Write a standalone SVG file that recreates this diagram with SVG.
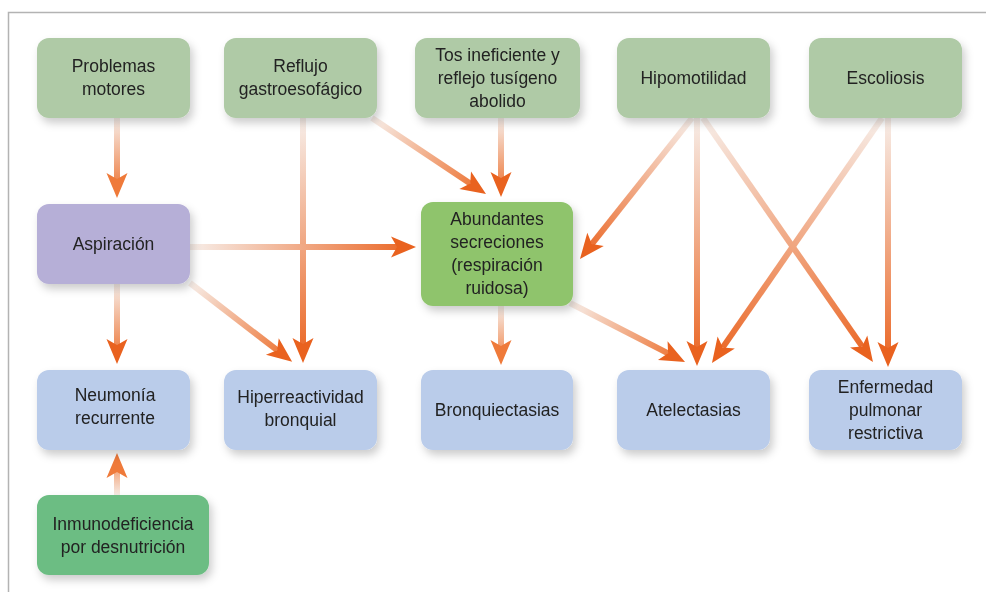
<svg xmlns="http://www.w3.org/2000/svg" width="986" height="592" viewBox="0 0 986 592">
  <defs>
    <filter id="sh" x="-20%" y="-20%" width="150%" height="160%">
      <feDropShadow dx="3" dy="5" stdDeviation="4" flood-color="#000" flood-opacity="0.2"/>
    </filter>
    <marker id="ah" markerUnits="userSpaceOnUse" markerWidth="32" markerHeight="32" viewBox="-10 -16 32 32" refX="0" refY="0" orient="auto">
      <path d="M-6,-10.5 L19,0 L-6,10.5 L0,0 Z" fill="#E9621F"/>
    </marker>
    <marker id="ahl" markerUnits="userSpaceOnUse" markerWidth="32" markerHeight="32" viewBox="-10 -16 32 32" refX="0" refY="0" orient="auto">
      <path d="M-6,-10.5 L19,0 L-6,10.5 L0,0 Z" fill="#EF7A3A"/>
    </marker>
    <linearGradient id="g1" gradientUnits="userSpaceOnUse" x1="117" y1="118" x2="117" y2="198"><stop offset="0" stop-color="#F7EEE9"/><stop offset="1" stop-color="#EC6B27"/></linearGradient>
    <linearGradient id="g2" gradientUnits="userSpaceOnUse" x1="303" y1="118" x2="303" y2="363"><stop offset="0" stop-color="#F7EEE9"/><stop offset="1" stop-color="#EA6320"/></linearGradient>
    <linearGradient id="g3" gradientUnits="userSpaceOnUse" x1="372" y1="118" x2="486" y2="194"><stop offset="0" stop-color="#F7EEE9"/><stop offset="1" stop-color="#EC6B27"/></linearGradient>
    <linearGradient id="g4" gradientUnits="userSpaceOnUse" x1="501" y1="118" x2="501" y2="197"><stop offset="0" stop-color="#F7EEE9"/><stop offset="1" stop-color="#EC6B27"/></linearGradient>
    <linearGradient id="g5" gradientUnits="userSpaceOnUse" x1="692" y1="118" x2="580" y2="259"><stop offset="0" stop-color="#F7EEE9"/><stop offset="1" stop-color="#EA6320"/></linearGradient>
    <linearGradient id="g6" gradientUnits="userSpaceOnUse" x1="697" y1="118" x2="697" y2="366"><stop offset="0" stop-color="#F7EEE9"/><stop offset="1" stop-color="#EA6320"/></linearGradient>
    <linearGradient id="g7" gradientUnits="userSpaceOnUse" x1="703" y1="118" x2="873" y2="362"><stop offset="0" stop-color="#F7EEE9"/><stop offset="1" stop-color="#EA6320"/></linearGradient>
    <linearGradient id="g8" gradientUnits="userSpaceOnUse" x1="882" y1="118" x2="712" y2="363"><stop offset="0" stop-color="#F7EEE9"/><stop offset="1" stop-color="#EA6320"/></linearGradient>
    <linearGradient id="g9" gradientUnits="userSpaceOnUse" x1="888" y1="118" x2="888" y2="367"><stop offset="0" stop-color="#F7EEE9"/><stop offset="1" stop-color="#EA6320"/></linearGradient>
    <linearGradient id="g10" gradientUnits="userSpaceOnUse" x1="190" y1="247" x2="416" y2="247"><stop offset="0" stop-color="#F7EEE9"/><stop offset="1" stop-color="#EA6320"/></linearGradient>
    <linearGradient id="g11" gradientUnits="userSpaceOnUse" x1="190" y1="283" x2="292" y2="362"><stop offset="0" stop-color="#F7EEE9"/><stop offset="1" stop-color="#EC6B27"/></linearGradient>
    <linearGradient id="g12" gradientUnits="userSpaceOnUse" x1="117" y1="284" x2="117" y2="364"><stop offset="0" stop-color="#F7EEE9"/><stop offset="1" stop-color="#EC6B27"/></linearGradient>
    <linearGradient id="g13" gradientUnits="userSpaceOnUse" x1="501" y1="306" x2="501" y2="365"><stop offset="0" stop-color="#F7EEE9"/><stop offset="1" stop-color="#EF7A3A"/></linearGradient>
    <linearGradient id="g14" gradientUnits="userSpaceOnUse" x1="570" y1="303" x2="685" y2="362"><stop offset="0" stop-color="#F7EEE9"/><stop offset="1" stop-color="#EC6B27"/></linearGradient>
    <linearGradient id="g15" gradientUnits="userSpaceOnUse" x1="117" y1="496" x2="117" y2="453"><stop offset="0" stop-color="#F7EEE9"/><stop offset="1" stop-color="#EF7A3A"/></linearGradient>
  </defs>
  <style>
    .box { filter: url(#sh); }
    .t { font-family: "Liberation Sans", Arial, sans-serif; font-size: 17.5px; fill: #222; text-anchor: middle; }
    .top { fill: #AFCAA6; }
    .asp { fill: #B6AFD7; }
    .abu { fill: #8FC46C; }
    .res { fill: #BACCEA; }
    .inm { fill: #6CBD83; }
    .c line { stroke-width: 6; fill: none; }
  </style>
  <rect x="0" y="0" width="986" height="592" fill="#FFFFFF"/>
  <rect x="8.5" y="12.5" width="1000" height="600" fill="none" stroke="#B3B3B3" stroke-width="1.5"/>

  <g id="connectors" class="c">
    <line x1="117" y1="118" x2="117" y2="179" stroke="url(#g1)" marker-end="url(#ahl)"/>
    <line x1="303" y1="118" x2="303" y2="344" stroke="url(#g2)" marker-end="url(#ah)"/>
    <line x1="372" y1="118" x2="470.2" y2="183.5" stroke="url(#g3)" marker-end="url(#ah)"/>
    <line x1="501" y1="118" x2="501" y2="178" stroke="url(#g4)" marker-end="url(#ah)"/>
    <line x1="692" y1="118" x2="591.8" y2="244.1" stroke="url(#g5)" marker-end="url(#ah)"/>
    <line x1="697" y1="118" x2="697" y2="347" stroke="url(#g6)" marker-end="url(#ah)"/>
    <line x1="703" y1="118" x2="862.1" y2="346.4" stroke="url(#g7)" marker-end="url(#ah)"/>
    <line x1="882" y1="118" x2="722.8" y2="347.4" stroke="url(#g8)" marker-end="url(#ah)"/>
    <line x1="888" y1="118" x2="888" y2="348" stroke="url(#g9)" marker-end="url(#ah)"/>
    <line x1="190" y1="247" x2="397" y2="247" stroke="url(#g10)" marker-end="url(#ah)"/>
    <line x1="190" y1="283" x2="277.1" y2="350.2" stroke="url(#g11)" marker-end="url(#ah)"/>
    <line x1="117" y1="284" x2="117" y2="345" stroke="url(#g12)" marker-end="url(#ah)"/>
    <line x1="501" y1="306" x2="501" y2="346" stroke="url(#g13)" marker-end="url(#ahl)"/>
    <line x1="570" y1="303" x2="668.1" y2="353.3" stroke="url(#g14)" marker-end="url(#ah)"/>
    <line x1="117" y1="496" x2="117" y2="472" stroke="url(#g15)" marker-end="url(#ahl)"/>
  </g>

  <g id="problemas-motores" class="box">
    <rect class="top" x="37" y="38" width="153" height="80" rx="12"/>
    <text class="t"><tspan x="113.5" y="72">Problemas</tspan><tspan x="113.5" y="95">motores</tspan></text>
  </g>
  <g id="reflujo" class="box">
    <rect class="top" x="224" y="38" width="153" height="80" rx="12"/>
    <text class="t"><tspan x="300.5" y="72">Reflujo</tspan><tspan x="300.5" y="95">gastroesofágico</tspan></text>
  </g>
  <g id="tos" class="box">
    <rect class="top" x="415" y="38" width="165" height="80" rx="12"/>
    <text class="t"><tspan x="497.5" y="61">Tos ineficiente y</tspan><tspan x="497.5" y="84">reflejo tusígeno</tspan><tspan x="497.5" y="107">abolido</tspan></text>
  </g>
  <g id="hipomotilidad" class="box">
    <rect class="top" x="617" y="38" width="153" height="80" rx="12"/>
    <text class="t" x="693.5" y="84">Hipomotilidad</text>
  </g>
  <g id="escoliosis" class="box">
    <rect class="top" x="809" y="38" width="153" height="80" rx="12"/>
    <text class="t" x="885.5" y="84">Escoliosis</text>
  </g>
  <g id="aspiracion" class="box">
    <rect class="asp" x="37" y="204" width="153" height="80" rx="12"/>
    <text class="t" x="113.5" y="250">Aspiración</text>
  </g>
  <g id="abundantes" class="box">
    <rect class="abu" x="421" y="202" width="152" height="104" rx="12"/>
    <text class="t"><tspan x="497" y="225">Abundantes</tspan><tspan x="497" y="248">secreciones</tspan><tspan x="497" y="271">(respiración</tspan><tspan x="497" y="294">ruidosa)</tspan></text>
  </g>
  <g id="neumonia" class="box">
    <rect class="res" x="37" y="370" width="153" height="80" rx="12"/>
    <text class="t"><tspan x="115" y="401">Neumonía</tspan><tspan x="115" y="424">recurrente</tspan></text>
  </g>
  <g id="hiperreactividad" class="box">
    <rect class="res" x="224" y="370" width="153" height="80" rx="12"/>
    <text class="t"><tspan x="300.5" y="403">Hiperreactividad</tspan><tspan x="300.5" y="426">bronquial</tspan></text>
  </g>
  <g id="bronquiectasias" class="box">
    <rect class="res" x="421" y="370" width="152" height="80" rx="12"/>
    <text class="t" x="497" y="416">Bronquiectasias</text>
  </g>
  <g id="atelectasias" class="box">
    <rect class="res" x="617" y="370" width="153" height="80" rx="12"/>
    <text class="t" x="693.5" y="416">Atelectasias</text>
  </g>
  <g id="enfermedad" class="box">
    <rect class="res" x="809" y="370" width="153" height="80" rx="12"/>
    <text class="t"><tspan x="885.5" y="393">Enfermedad</tspan><tspan x="885.5" y="416">pulmonar</tspan><tspan x="885.5" y="439">restrictiva</tspan></text>
  </g>
  <g id="inmunodeficiencia" class="box">
    <rect class="inm" x="37" y="495" width="172" height="80" rx="12"/>
    <text class="t"><tspan x="123" y="530">Inmunodeficiencia</tspan><tspan x="123" y="553">por desnutrición</tspan></text>
  </g>
</svg>
